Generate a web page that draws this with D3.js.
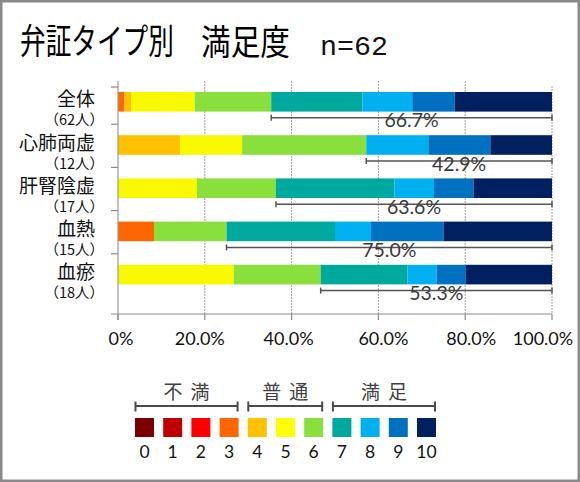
<!DOCTYPE html>
<html><head><meta charset="utf-8">
<script src="https://cdn.jsdelivr.net/npm/d3@7/dist/d3.min.js"></script>
<style>
html,body{margin:0;padding:0;background:#fff;}
svg{display:block;}
</style></head>
<body>
<script>
// ---- data ----
const categories = ["全体","心肺両虚","肝腎陰虚","血熱","血瘀"];
const countLabels = ["（62人）","（12人）","（17人）","（15人）","（18人）"];
const scores = [0,1,2,3,4,5,6,7,8,9,10];
const s0  = [0,0,0,0,0];
const s1  = [0,0,0,0,0];
const s2  = [0,0,0,0,0];
const s3  = [1.5,0,0,8.3,0];
const s4  = [1.5,14.3,0,0,0];
const s5  = [14.7,14.3,18.2,0,26.7];
const s6  = [17.6,28.6,18.2,16.7,20.0];
const s7  = [21.0,0,27.3,25.0,20.0];
const s8  = [11.5,14.3,9.1,8.3,6.7];
const s9  = [9.8,14.3,9.1,16.7,6.7];
const s10 = [22.4,14.2,18.1,25.0,19.9];
const satisfiedLabels = ["66.7%","42.9%","63.6%","75.0%","53.3%"];
const xTicks = [0,20,40,60,80,100];
const groupLabels = ["不満","普通","満足"];
const groupStart = [0,4,7];
const groupEnd = [3,6,10];
const satisfiedFrom = 7;
const titleMain = "弁証タイプ別";
const titleSub = "満足度";
const titleN = "n=62";

const colors = ["#7b0000","#c00000","#ff0000","#ff6600","#ffc000","#f8f800","#89df3b","#00a99d","#00b0f0","#0070c0","#002060"];
const legendColors = ["#7b0000","#c00000","#ff0000","#ff6600","#ffc000","#ffff00","#89df3b","#00a99d","#00b0f0","#0070c0","#002060"];

// ---- build ----
const series = [s0,s1,s2,s3,s4,s5,s6,s7,s8,s9,s10];
const rows = categories.map((c,i)=>{const o={cat:c}; scores.forEach(s=>o[s]=series[s][i]); return o;});
const stacked = d3.stack().keys(scores)(rows);

const W=580,H=482;
const svg = d3.select("body").append("svg").attr("width",W).attr("height",H);
svg.append("rect").attr("width",W).attr("height",H).attr("fill","#fff");

const x = d3.scaleLinear().domain([0,100]).range([118,552]);
const y = d3.scaleBand().domain(categories).range([81,297]);
const barOff = 11, barH = 19.6;
const plotTop = 81, plotBottom = 314;

const jp = "'Noto Sans CJK JP','Noto Sans',sans-serif";
const lat = "Lato,'Noto Sans',sans-serif";

// title (horizontally condensed to match the narrow original face)
function condensedText(str, x0, targetW, size){
  const t = svg.append("text").attr("x",0).attr("y",0).attr("dominant-baseline","central")
    .attr("font-family",jp).attr("font-size",size).attr("fill","#000").text(str);
  const w = t.node().getComputedTextLength() || (str.length*size);
  t.attr("transform",`translate(${x0},39) scale(${targetW/w},1)`);
}
condensedText(titleMain, 20, 154, 35);
condensedText(titleSub, 201, 89, 35);
svg.append("text").attr("x",320).attr("y",55)
  .attr("font-family","'Liberation Mono','DejaVu Sans Mono',monospace").attr("font-size",27).attr("fill","#111")
  .attr("textLength",68).attr("lengthAdjust","spacingAndGlyphs").text(titleN);

// gridlines
svg.append("g").selectAll("line").data(xTicks.filter(d=>d>0)).join("line")
  .attr("x1",d=>x(d)).attr("x2",d=>x(d))
  .attr("y1",d=>d===100?86:plotTop).attr("y2",plotBottom)
  .attr("stroke","#a89f98").attr("stroke-width",1).attr("stroke-dasharray","2,1");

// bars
svg.append("g").selectAll("g").data(stacked).join("g")
  .attr("fill",d=>colors[d.key])
  .selectAll("rect").data(d=>d).join("rect")
  .attr("x",d=>x(d[0])).attr("width",d=>x(d[1])-x(d[0]))
  .attr("y",d=>y(d.data.cat)+barOff).attr("height",barH);

// axes lines
svg.append("line").attr("x1",118).attr("x2",118).attr("y1",plotTop).attr("y2",plotBottom+6)
  .attr("stroke","#9a9a9a").attr("stroke-width",1.2);
svg.append("line").attr("x1",111).attr("x2",x(100)).attr("y1",plotBottom).attr("y2",plotBottom)
  .attr("stroke","#8c8c8c").attr("stroke-width",1.2);
// y ticks (category boundaries)
const yTickPos = [87].concat(categories.slice(1).map(c=>y(c)));
svg.append("g").selectAll("line").data(yTickPos).join("line")
  .attr("x1",111).attr("x2",118).attr("y1",d=>d).attr("y2",d=>d)
  .attr("stroke","#8c8c8c").attr("stroke-width",1.2);
// x ticks
svg.append("g").selectAll("line").data(xTicks).join("line")
  .attr("x1",d=>x(d)).attr("x2",d=>x(d)).attr("y1",plotBottom).attr("y2",plotBottom+6)
  .attr("stroke","#8c8c8c").attr("stroke-width",1.2);
const xLabelDx = [3,-5,-3,5,6,-9];
svg.append("g").selectAll("text").data(xTicks).join("text")
  .attr("x",(d,i)=>x(d)+xLabelDx[i]).attr("y",345).attr("text-anchor","middle")
  .attr("font-family",lat).attr("font-size",18).attr("fill","#111")
  .text(d=>d===0?"0%":d3.format(".1f")(d)+"%");

// category labels
const lab = svg.append("g");
categories.forEach((c,i)=>{
  const cy = y(c)+barOff+barH/2;
  lab.append("text").attr("x",95).attr("y",cy-4).attr("text-anchor","end").attr("dominant-baseline","central")
    .attr("font-family",jp).attr("font-size",19).attr("fill","#111").text(c);
  lab.append("text").attr("x",104).attr("y",cy+17).attr("text-anchor","end").attr("dominant-baseline","central")
    .attr("font-family",jp).attr("font-size",14.5).attr("fill","#111").text(countLabels[i]);
});

// satisfied range lines
const rg = svg.append("g");
categories.forEach((c,i)=>{
  const x0 = x(stacked[satisfiedFrom][i][0]);
  const x1 = x(stacked[scores.length-1][i][1]);
  const ly = y(c)+barOff+barH/2+16;
  rg.append("line").attr("x1",x0).attr("x2",x1).attr("y1",ly).attr("y2",ly).attr("stroke","#555").attr("stroke-width",1.5);
  [x0,x1].forEach(xx=>rg.append("line").attr("x1",xx).attr("x2",xx).attr("y1",ly-3).attr("y2",ly+3).attr("stroke","#555").attr("stroke-width",1.5));
  rg.append("text").attr("x",(x0+x1)/2).attr("y",ly+9.5).attr("text-anchor","middle")
    .attr("font-family",lat).attr("font-size",19.5).attr("fill","#3a3a3a").text(satisfiedLabels[i]);
});

// legend
const lx = d3.scaleLinear().domain([0,10]).range([135,417]);
const boxW = 19;
const lg = svg.append("g");
lg.selectAll("rect").data(scores).join("rect")
  .attr("x",d=>lx(d)).attr("y",418).attr("width",boxW).attr("height",19).attr("fill",d=>legendColors[d]);
lg.selectAll("text.num").data(scores).join("text").attr("class","num")
  .attr("x",d=>lx(d)+boxW/2).attr("y",458).attr("text-anchor","middle")
  .attr("font-family",lat).attr("font-size",17.5).attr("fill","#111").text(d=>d);
groupLabels.forEach((g,i)=>{
  const a = lx(groupStart[i])+0.5, b = lx(groupEnd[i])+boxW-1;
  lg.append("line").attr("x1",a).attr("x2",b).attr("y1",406).attr("y2",406).attr("stroke","#4a4a4a").attr("stroke-width",2);
  [a,b].forEach(xx=>lg.append("line").attr("x1",xx).attr("x2",xx).attr("y1",401.5).attr("y2",411.5).attr("stroke","#4a4a4a").attr("stroke-width",2));
  lg.append("text").attr("x",(a+b)/2+4).attr("y",390).attr("text-anchor","middle").attr("dominant-baseline","central")
    .attr("font-family",jp).attr("font-size",19).attr("letter-spacing",8).attr("fill","#404040").text(g);
});

// frame
svg.append("rect").attr("x",1.25).attr("y",1.25).attr("width",W-2.5).attr("height",H-2.5)
  .attr("fill","none").attr("stroke","#8a8a8a").attr("stroke-width",2.5);
</script>
</body></html>
